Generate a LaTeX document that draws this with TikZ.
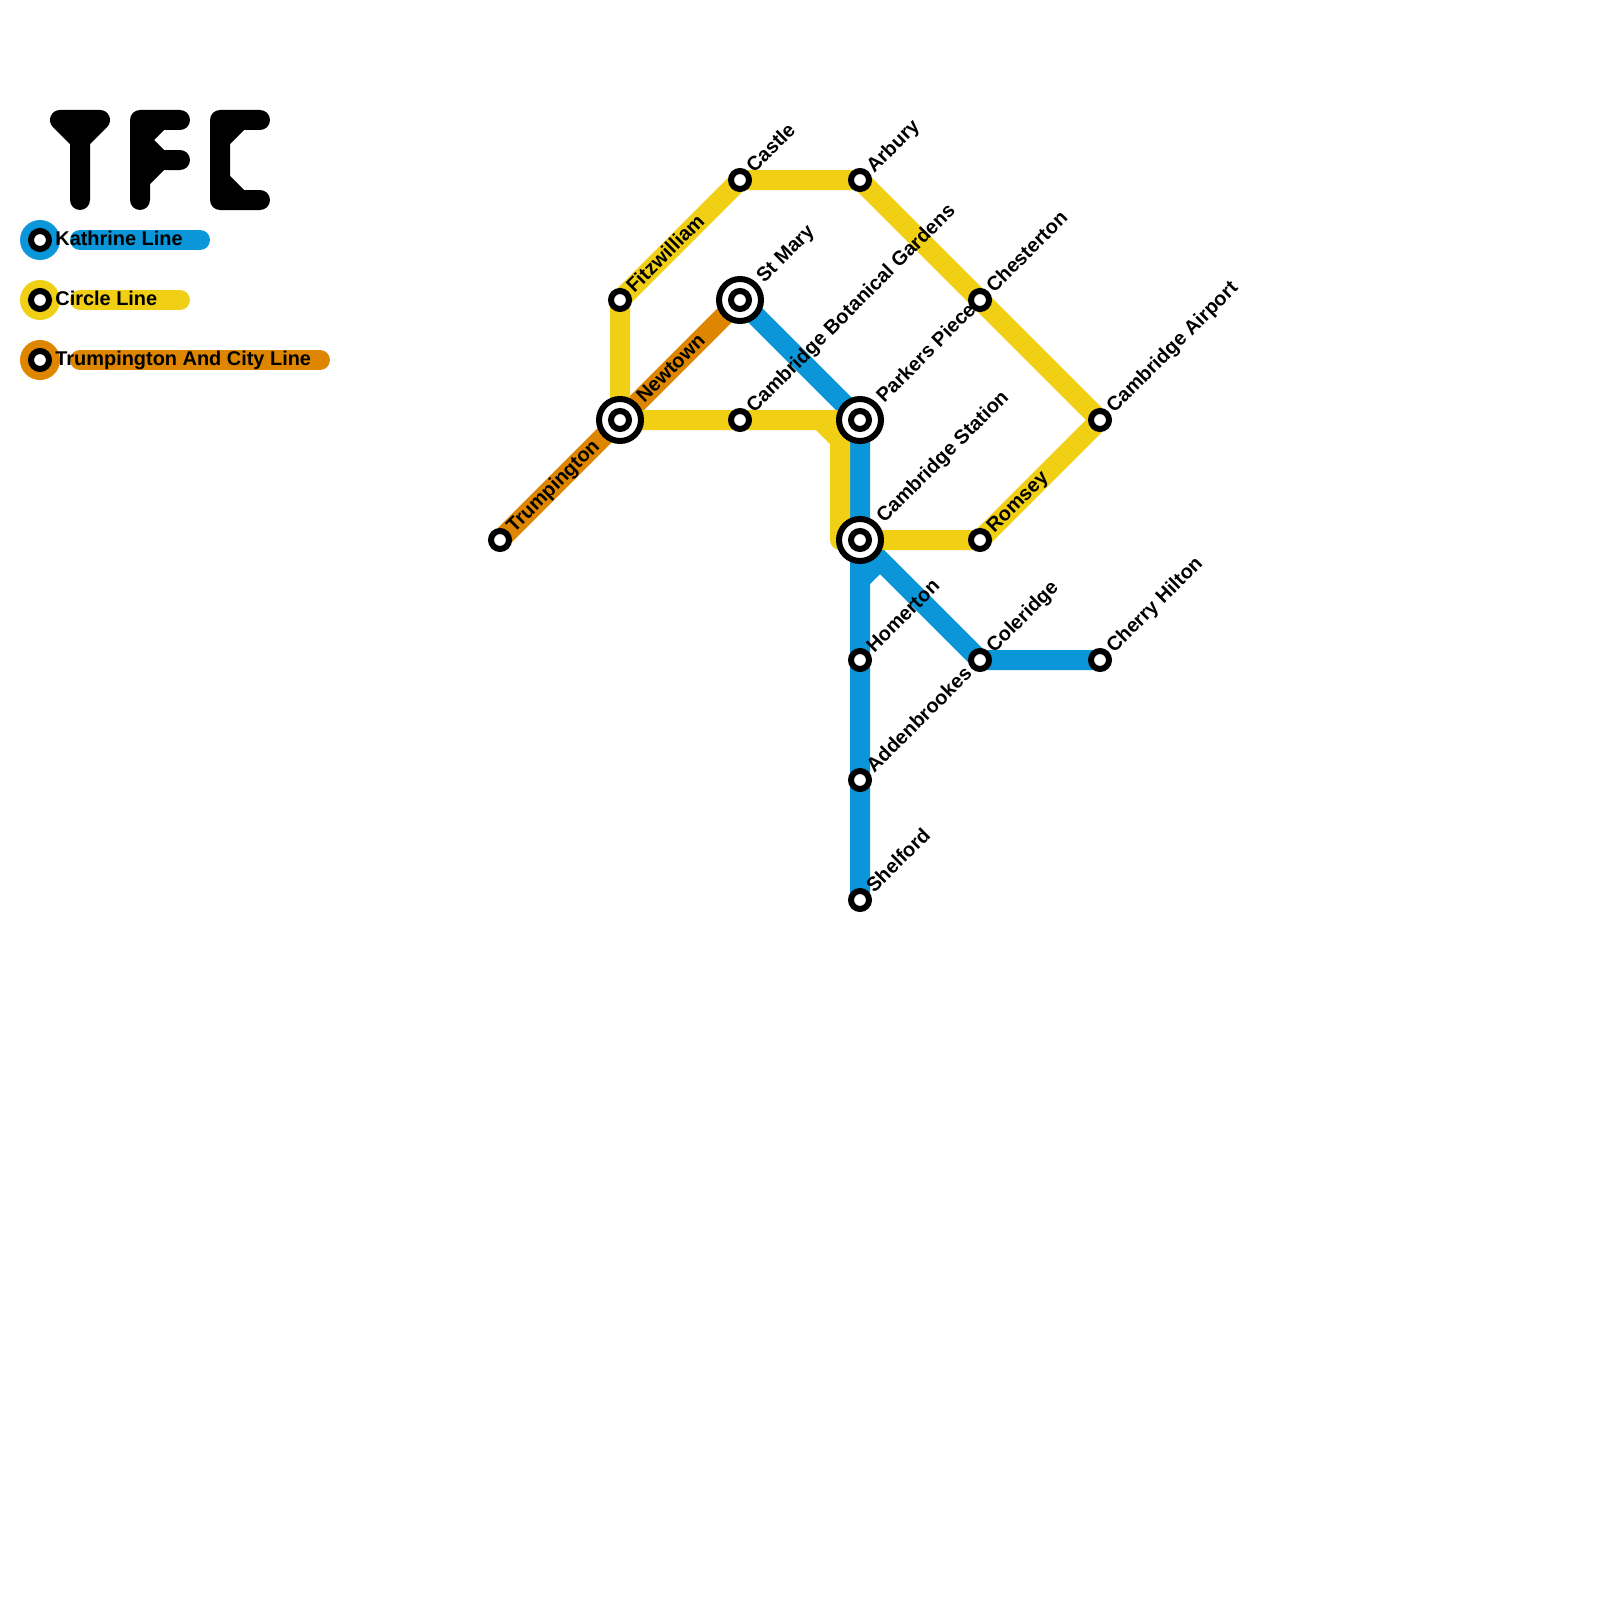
\documentclass[tikz,border=0pt]{standalone}
\usepackage{fontspec}
\setmainfont{Liberation Sans}
\usetikzlibrary{backgrounds}
\definecolor{kathrine}{HTML}{0A96D8}
\definecolor{circleyellow}{HTML}{F0CF15}
\definecolor{trumpington}{HTML}{DF8600}
\tikzset{
  track/.style={line width=10pt,line cap=round,line join=round},
  stop/.style={circle,draw=black,fill=white,line width=3pt,minimum size=9pt,inner sep=0pt},
  hub/.style={circle,draw=black,fill=white,line width=3pt,minimum size=21pt,inner sep=0pt},
  stopname/.style={font=\bfseries\fontsize{9.96}{12}\selectfont,rotate=45,anchor=base west,inner sep=0pt},
  keytext/.style={font=\bfseries\fontsize{9.96}{12}\selectfont,anchor=base west,inner sep=0pt},
  keydot/.style={circle,minimum size=20pt,inner sep=0pt},
}
\begin{document}
\begin{tikzpicture}[x=0.5pt,y=-0.5pt]
\useasboundingbox (0,0) rectangle (1600,1600);

% --- Logo ---
\draw[track] (60,120)--(100,120)--(80,140)--cycle (80,140)--(80,200);
\draw[track] (180,120)--(140,120)--(140,200) (160,120)--(140,140)--(160,160)--(140,180) (160,160)--(180,160);
\draw[track] (260,120)--(220,120)--(220,200)--(260,200) (240,120)--(220,140) (220,180)--(240,200);

% --- Legend ---
\draw[track,kathrine] (80,240)--(200,240);
\draw[track,circleyellow] (80,300)--(180,300);
\draw[track,trumpington] (80,360)--(320,360);
\node[keydot,fill=kathrine] (keyk) at (40,240) {};
\node[keydot,fill=circleyellow] (keyc) at (40,300) {};
\node[keydot,fill=trumpington] (keyt) at (40,360) {};
\node[stop] (stopk) at (keyk) {};
\node[stop] (stopc) at (keyc) {};
\node[stop] (stopt) at (keyt) {};
\node[keytext] (textk) at (55,245) {Kathrine Line};
\node[keytext] (textc) at (55,305) {Circle Line};
\node[keytext] (textt) at (55,365) {Trumpington And City Line};

% --- Stations ---
\node[stop] (trumping) at (500,540) {};
\node[stop] (fitz) at (620,300) {};
\node[stop] (castle) at (740,180) {};
\node[stop] (arbury) at (860,180) {};
\node[stop] (chest) at (980,300) {};
\node[stop] (airport) at (1100,420) {};
\node[stop] (romsey) at (980,540) {};
\node[stop] (botanic) at (740,420) {};
\node[stop] (homerton) at (860,660) {};
\node[stop] (addenb) at (860,780) {};
\node[stop] (shelford) at (860,900) {};
\node[stop] (coleridge) at (980,660) {};
\node[stop] (cherry) at (1100,660) {};

% --- Interchanges ---
\node[hub] (newtown) at (620,420) {};
\node[stop] (newtownin) at (newtown) {};
\node[hub] (stmary) at (740,300) {};
\node[stop] (stmaryin) at (stmary) {};
\node[hub] (parkers) at (860,420) {};
\node[stop] (parkersin) at (parkers) {};
\node[hub] (station) at (860,540) {};
\node[stop] (stationin) at (station) {};

% --- Lines ---
\begin{scope}[on background layer]
\draw[track,trumpington] (trumping.center)--(newtown.center)--(stmary.center);
\draw[track,kathrine] (stmary.center)--(parkers.center)--(station.center)--(shelford.center);
\draw[track,kathrine] (cherry.center)--(coleridge.center)--(station.center);
\draw[track,kathrine,line cap=butt] (860,580)--(880,560);
\draw[track,circleyellow] (newtown.center)--(fitz.center)--(castle.center)--(arbury.center)--(chest.center)
  --(airport.center)--(romsey.center)--(840,540)--(840,440)--(820,420)--(botanic.center)--(newtown.center);
\draw[track,circleyellow,line cap=butt] (botanic.center)--(parkers.center);
\draw[track,circleyellow,line cap=butt] (station.center)--(romsey.center);
\end{scope}

% --- Names ---
\node[stopname] (ntrumping) at (514,534) {Trumpington};
\node[stopname] (nfitz) at (634,294) {Fitzwilliam};
\node[stopname] (ncastle) at (754,174) {Castle};
\node[stopname] (narbury) at (874,174) {Arbury};
\node[stopname] (nchest) at (994,294) {Chesterton};
\node[stopname] (nairport) at (1114,414) {Cambridge Airport};
\node[stopname] (nromsey) at (994,534) {Romsey};
\node[stopname] (nbotanic) at (754,414) {Cambridge Botanical Gardens};
\node[stopname] (nhomerton) at (874,654) {Homerton};
\node[stopname] (naddenb) at (874,774) {Addenbrookes};
\node[stopname] (nshelford) at (874,894) {Shelford};
\node[stopname] (ncoleridge) at (994,654) {Coleridge};
\node[stopname] (ncherry) at (1114,654) {Cherry Hilton};
\node[stopname] (nnewtown) at (644,404) {Newtown};
\node[stopname] (nstmary) at (764,284) {St Mary};
\node[stopname] (nparkers) at (884,404) {Parkers Piece};
\node[stopname] (nstation) at (884,524) {Cambridge Station};

\end{tikzpicture}
\end{document}
